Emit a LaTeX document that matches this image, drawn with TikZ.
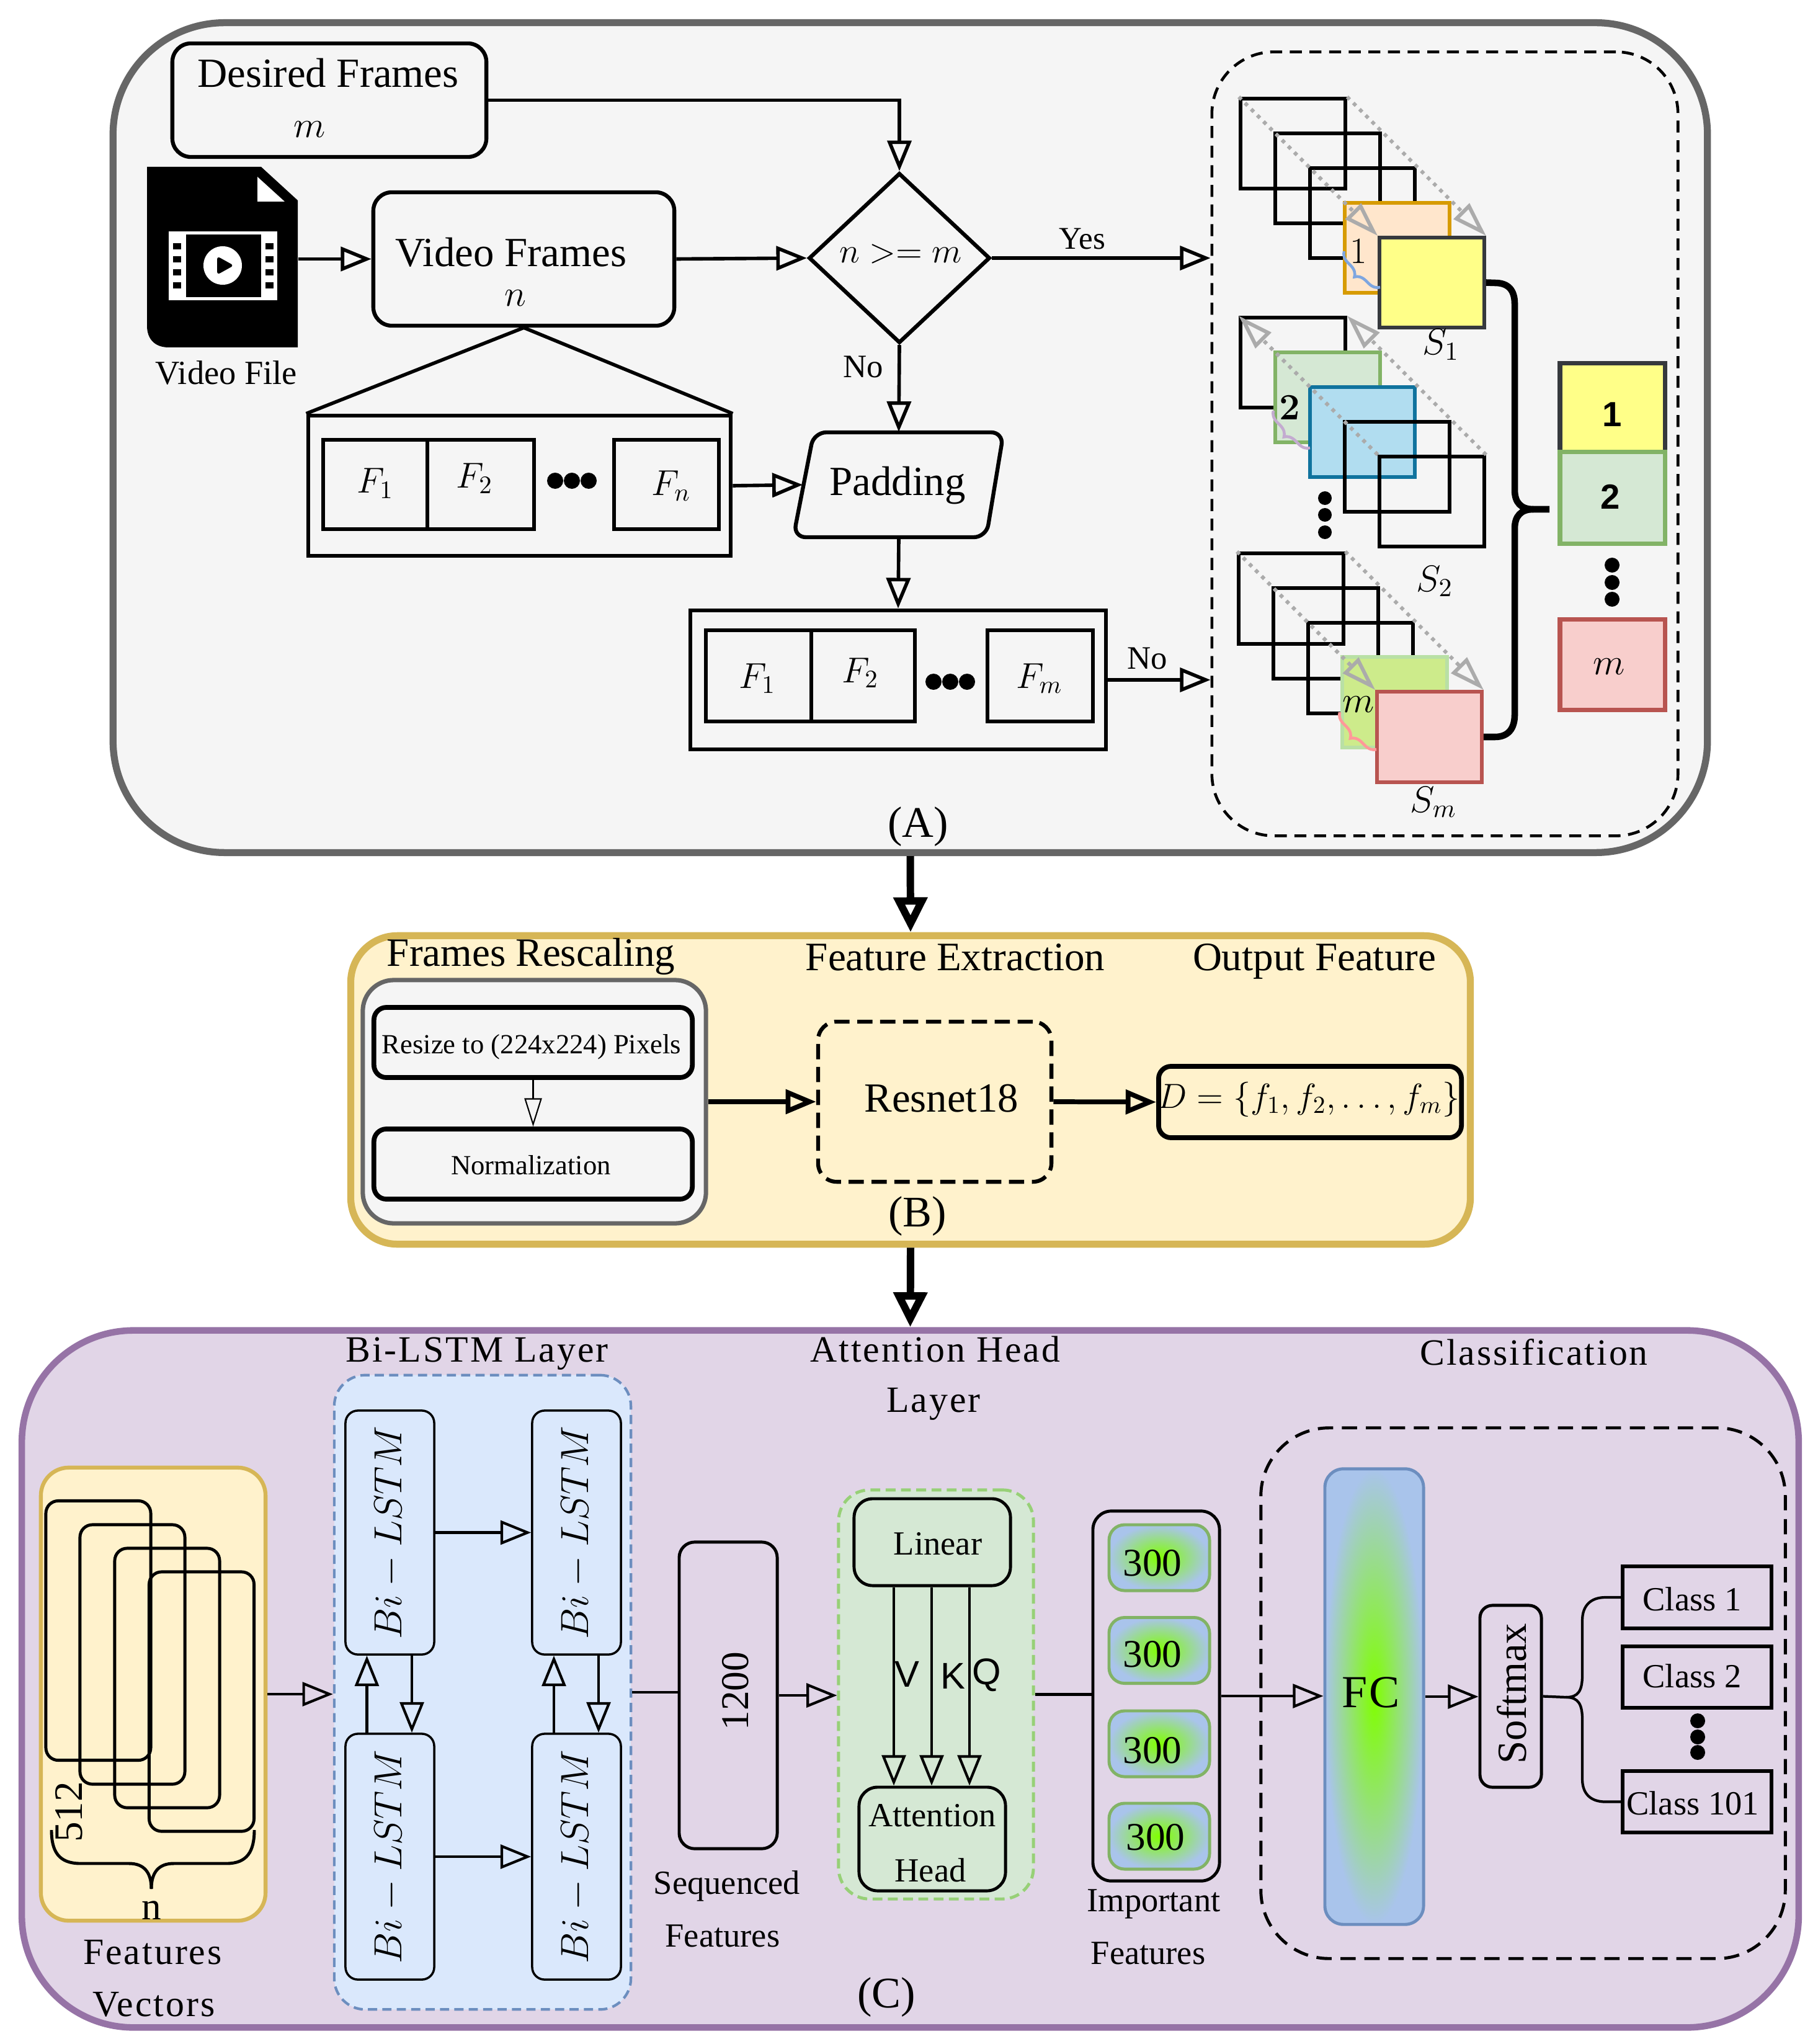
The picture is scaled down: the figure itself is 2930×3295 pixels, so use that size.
\RequirePackage{fix-cm}
\documentclass[tikz,border=0pt]{standalone}
\usepackage[no-math]{fontspec}
\setmainfont{Liberation Serif}
\newfontfamily\hsans{Liberation Sans}
\newfontfamily\spc[LetterSpace=5]{Liberation Serif}
\usetikzlibrary{arrows.meta,shapes.geometric,decorations.pathreplacing,calc}
\definecolor{grayfill}{HTML}{F5F5F5}
\definecolor{grayline}{HTML}{666666}
\definecolor{yelfill}{HTML}{FFF2CC}
\definecolor{yelline}{HTML}{D6B656}
\definecolor{purfill}{HTML}{E1D5E7}
\definecolor{purline}{HTML}{9673A6}
\definecolor{bluefill}{HTML}{DAE8FC}
\definecolor{blueline}{HTML}{6C8EBF}
\definecolor{grnfill}{HTML}{D5E8D4}
\definecolor{grnline}{HTML}{82B366}
\definecolor{grndash}{HTML}{97D077}
\definecolor{orfill}{HTML}{FFE6CC}
\definecolor{orline}{HTML}{D79B00}
\definecolor{yeltwo}{HTML}{FFFF88}
\definecolor{darkline}{HTML}{36393D}
\definecolor{cyanfill}{HTML}{B1DDF0}
\definecolor{cyanline}{HTML}{10739E}
\definecolor{limefill}{HTML}{CDEB8B}
\definecolor{limeline}{HTML}{B9E0A5}
\definecolor{redfill}{HTML}{F8CECC}
\definecolor{redline}{HTML}{B85450}
\definecolor{dotgray}{HTML}{ABABAB}
\definecolor{brblue}{HTML}{7EA6E0}
\definecolor{brpur}{HTML}{C3ABD0}
\definecolor{brpink}{HTML}{FF9999}
\definecolor{gcenter}{HTML}{80FF00}
\definecolor{gedge}{HTML}{A9C4EB}
\newcommand{\fs}[1]{\fontsize{#1}{#1}\selectfont}
\begin{document}
\begin{tikzpicture}[x=0.01cm, y=-0.01cm,
  lbl/.style={inner sep=0pt, anchor=base},
  rbox/.style={draw, line width=1.8pt, rounded corners=0.3cm, inner sep=0pt},
  pbox/.style={draw, line width=1.8pt, inner sep=0pt},
  stk/.style={draw, line width=1.6pt, inner sep=0pt, minimum width=1.69cm, minimum height=1.45cm},
  dotarr/.style={draw=dotgray, line width=1.7pt, dash pattern=on 1.7pt off 2.3pt, -{Triangle[open,length=16pt,width=10pt]}},
  arrA/.style={line width=1.6pt, -{Triangle[open,length=14pt,width=11pt]}},
  lineA/.style={line width=1.6pt},
  arrB/.style={line width=2.2pt, -{Triangle[open,length=14pt,width=11pt]}},
  arrBt/.style={line width=0.6pt, -{Triangle[open,length=13pt,width=8pt]}},
  bigarr/.style={line width=3.4pt, -{Triangle[open,length=16pt,width=15pt]}},
  arrC/.style={line width=1.2pt, -{Triangle[open,length=14pt,width=11pt]}},
  lineC/.style={line width=1.2pt},
  brc/.style={decorate, decoration={brace, amplitude=5pt}, line width=1.3pt},
  lstm/.style={draw, fill=bluefill, line width=1pt, rounded corners=0.2cm, inner sep=0pt, minimum width=1.43cm, minimum height=3.93cm},
  fr/.style={draw, line width=1.4pt, rounded corners=0.2cm, inner sep=0pt, minimum width=1.69cm, minimum height=4.18cm},
  gbox/.style={draw=grnline, line width=1.4pt, rounded corners=0.25cm, inner color=gcenter, outer color=gedge, inner sep=0pt, minimum width=1.62cm, minimum height=1.06cm},
  clsbox/.style={draw, line width=1.6pt, inner sep=0pt, minimum width=2.40cm, minimum height=1.0cm}
]
\useasboundingbox (0,0) rectangle (2930,3295);
\fill[white] (0,0) rectangle (2930,3295);

% ================= Section A =================
\node[draw=grayline, fill=grayfill, line width=3.2pt, rounded corners=1.8cm, minimum width=25.69cm, minimum height=13.37cm] (A) at (1467.5,705.5) {};

\node[rbox, minimum width=5.06cm, minimum height=1.83cm] (df) at (531,161.5) {};
\node[lbl, font=\fs{19}] (tdf) at (529,141) {Desired Frames};
\node[lbl, font=\fs{17}] (tdfm) at (499,222) {$m$};

% video file icon
\node[inner sep=0pt, minimum width=2.43cm, minimum height=2.91cm] (vf) at (358.5,414.5) {};
\fill[black] (237,269) -- (421,269) -- (480,323) -- (480,560) -- (272,560) .. controls (250,560) and (237,547) .. (237,525) -- cycle;
\fill[white] (415,285) -- (415,325) -- (459,325) -- cycle;
\fill[white] (272,373) rectangle (447,484);
\fill[black] (300,378) rectangle (421,479);
\foreach \yy in {392,413,434,455} {
  \fill[black] (279,\yy) rectangle ++(13,10);
  \fill[black] (428,\yy) rectangle ++(13,10);
}
\fill[white] (359,428) circle (0.31cm);
\fill[black, rounded corners=1.5pt] (350,413) -- (377,428) -- (350,443) -- cycle;
\node[lbl, font=\fs{15.5}] (tvf) at (365,620) {Video File};

\node[rbox, minimum width=4.85cm, minimum height=2.15cm] (vfr) at (844.5,417.5) {};
\node[lbl, font=\fs{19}] (tvfr) at (824,430) {Video Frames};
\node[lbl, font=\fs{17}] (tvfrn) at (831,494) {$n$};

\node[draw, diamond, line width=1.8pt, minimum width=2.92cm, minimum height=2.74cm, inner sep=0pt] (dia) at (1450,416) {};
\node[lbl, font=\fs{16}] (tdia) at (1452,424) {$n >= m$};

% padding
\draw[line width=1.8pt, rounded corners=0.2cm] (1434,866) -- (1279,866) -- (1312,697) -- (1618,697) -- (1590,866) -- cycle;
\node[inner sep=0pt, minimum width=3.08cm, minimum height=1.69cm] (pad) at (1449,781.5) {};
\node[lbl, font=\fs{19}] (tpad) at (1447,799) {Padding};

% frame containers
\node[pbox, minimum width=6.81cm, minimum height=2.26cm] (fca) at (837.5,783) {};
\node[pbox, minimum width=1.68cm, minimum height=1.44cm] (fa1) at (605,781) {};
\node[pbox, minimum width=1.72cm, minimum height=1.44cm] (fa2) at (775,781) {};
\node[pbox, minimum width=1.69cm, minimum height=1.44cm] (fan) at (1074.5,781) {};
\node[lbl, font=\fs{16.5}] (tfa1) at (605,795) {$F_1$};
\node[lbl, font=\fs{16.5}] (tfa2) at (765,787) {$F_2$};
\node[lbl, font=\fs{16.5}] (tfan) at (1082,799) {$F_n$};
\foreach \xx in {895,922,949} { \fill[black] (\xx,775) circle (0.13cm); }

\node[pbox, minimum width=6.70cm, minimum height=2.24cm] (fcb) at (1448,1096) {};
\node[pbox, minimum width=1.70cm, minimum height=1.47cm] (fb1) at (1223,1089.5) {};
\node[pbox, minimum width=1.67cm, minimum height=1.47cm] (fb2) at (1391.5,1089.5) {};
\node[pbox, minimum width=1.70cm, minimum height=1.47cm] (fbm) at (1677,1089.5) {};
\node[lbl, font=\fs{16.5}] (tfb1) at (1221,1109) {$F_1$};
\node[lbl, font=\fs{16.5}] (tfb2) at (1387,1100) {$F_2$};
\node[lbl, font=\fs{16.5}] (tfbm) at (1676,1109) {$F_m$};
\foreach \xx in {1505,1532,1559} { \fill[black] (\xx,1099) circle (0.13cm); }

% dashed sampling box
\node[draw, dash pattern=on 5.5pt off 3.5pt, line width=1.3pt, rounded corners=1cm, minimum width=7.51cm, minimum height=12.63cm] (dbox) at (2329.5,715.5) {};

% connectors of A
\draw[arrA] (df.east) -| (dia.north);
\draw[arrA] (vf.east |- vfr.west) -- (vfr.west);
\draw[arrA] (vfr.east) -- (dia.west);
\draw[arrA] (dia.east) -- (dia.east -| dbox.west);
\node[lbl, font=\fs{14.5}] (tyes) at (1745,402) {Yes};
\draw[arrA] (dia.south) -- (pad.north);
\node[lbl, font=\fs{15}] (tno1) at (1392,609) {No};
\draw[lineA] (vfr.south) -- (fca.north west);
\draw[lineA] (vfr.south) -- (fca.north east);
\draw[arrA] (fca.east) -- (pad.west);
\draw[arrA] (pad.south) -- (fcb.north);
\draw[arrA] (fcb.east) -- (fcb.east -| dbox.west);
\node[lbl, font=\fs{15}] (tno2) at (1850,1078) {No};

% stack S1
\node[stk] (s1a) at (2084.5,231.5) {};
\node[stk] (s1b) at (2140.5,287.5) {};
\node[stk] (s1c) at (2196.5,343.5) {};
\node[stk, fill=orfill, draw=orline] (s1d) at (2252.5,399.5) {};
\node[stk, fill=yeltwo, draw=darkline] (s1e) at (2308.5,455.5) {};
\draw[dotarr] (s1a.north west) -- (s1e.north west);
\draw[dotarr] (s1a.north east) -- (s1e.north east);
\node[lbl, font=\fs{17}] (ts1n) at (2190,425) {$1$};
\draw[brc, brblue] (2225,463) -- (2167,405);
\node[lbl, font=\fs{17}] (ts1) at (2323,572) {$S_1$};

% stack S2
\node[stk] (s2a) at (2084.5,584.5) {};
\node[stk, fill=grnfill, draw=grnline] (s2b) at (2140.5,640.5) {};
\node[stk, fill=cyanfill, draw=cyanline] (s2c) at (2196.5,696.5) {};
\node[stk] (s2d) at (2252.5,752.5) {};
\node[stk] (s2e) at (2308.5,808.5) {};
\draw[dotarr] (s2e.north west) -- (s2a.north west);
\draw[dotarr] (s2e.north east) -- (s2a.north east);
\node[lbl, font=\fs{17}] (ts2n) at (2079,677) {$\mathbf{2}$};
\draw[brc, brpur] (2112,722) -- (2053,662);
\foreach \yy in {803,830,858} { \fill[black] (2136,\yy) circle (0.11cm); }
\node[lbl, font=\fs{17}] (ts2) at (2313,953) {$S_2$};

% stack Sm
\node[stk, minimum height=1.46cm] (sma) at (2081.5,965) {};
\node[stk, minimum height=1.46cm] (smb) at (2137.5,1021) {};
\node[stk, minimum height=1.46cm] (smc) at (2193.5,1077) {};
\node[stk, minimum height=1.46cm, fill=limefill, draw=limeline] (smd) at (2248.5,1132) {};
\node[stk, minimum height=1.46cm, fill=redfill, draw=redline] (sme) at (2304.5,1188) {};
\draw[dotarr] (sma.north west) -- (sme.north west);
\draw[dotarr] (sma.north east) -- (sme.north east);
\node[lbl, font=\fs{17}] (tsmn) at (2190,1148) {$m$};
\draw[brc, brpink] (2219,1208) -- (2160,1148);
\node[lbl, font=\fs{17}] (tsm) at (2311,1309) {$S_m$};

% big brace
\coordinate (brt) at (2498,821);
\draw[line width=3pt] (s1e.east) -- (2410,456) .. controls (2432,456) and (2442,468) .. (2442,490) -- (2442,790) .. controls (2442,810) and (2452,821) .. (2472,821) -- (brt);
\draw[line width=3pt] (2472,821) .. controls (2452,821) and (2442,832) .. (2442,852) -- (2442,1152) .. controls (2442,1174) and (2432,1188) .. (2410,1188) -- (sme.east);

% result column
\node[draw=darkline, fill=yeltwo, line width=2pt, inner sep=0pt, minimum width=1.69cm, minimum height=1.43cm] (ra) at (2599.5,657.5) {};
\node[draw=grnline, fill=grnfill, line width=2pt, inner sep=0pt, minimum width=1.69cm, minimum height=1.47cm] (rb) at (2599.5,802.5) {};
\node[draw=redline, fill=redfill, line width=2pt, inner sep=0pt, minimum width=1.69cm, minimum height=1.45cm] (rm) at (2599.5,1071.5) {};
\node[lbl, font=\hsans\bfseries\fs{16}] (tra) at (2599,688) {1};
\node[lbl, font=\hsans\bfseries\fs{16}] (trb) at (2596,821) {2};
\node[lbl, font=\fs{17}] (trm) at (2594,1087) {$m$};
\foreach \yy in {911,939,966} { \fill[black] (2599,\yy) circle (0.12cm); }

\node[lbl, font=\fs{20}] (tA) at (1480,1349) {(A)};

% ================= Section B =================
\node[draw=yelline, fill=yelfill, line width=3.2pt, rounded corners=0.75cm, minimum width=18.04cm, minimum height=4.97cm] (B) at (1468,1757) {};
\node[lbl, font=\fs{18.5}] (tfr) at (856,1557) {Frames Rescaling};
\node[lbl, font=\fs{18.5}] (tfe) at (1540,1564) {Feature Extraction};
\node[lbl, font=\fs{18.5}] (tof) at (2119,1564) {Output Feature};

\node[draw=grayline, fill=grayfill, line width=2pt, rounded corners=0.5cm, minimum width=5.53cm, minimum height=3.92cm] (gb) at (861.5,1776) {};
\node[draw, fill=grayfill, line width=2.2pt, rounded corners=0.2cm, minimum width=5.13cm, minimum height=1.13cm] (rs) at (859.5,1680.5) {};
\node[draw, fill=grayfill, line width=2.2pt, rounded corners=0.2cm, minimum width=5.13cm, minimum height=1.13cm] (nm) at (859.5,1876.5) {};
\node[lbl, font=\fs{12.7}] (trs) at (857,1698) {Resize to (224x224) Pixels};
\node[lbl, font=\fs{12.7}] (tnm) at (856,1893) {Normalization};
\draw[arrBt] (rs.south) -- (nm.north);

\node[draw, dash pattern=on 7pt off 3.5pt, line width=1.8pt, rounded corners=0.3cm, minimum width=3.76cm, minimum height=2.58cm] (res) at (1507,1776) {};
\node[lbl, font=\fs{19}] (tres) at (1518,1792) {Resnet18};
\node[draw, line width=2.2pt, rounded corners=0.2cm, minimum width=4.88cm, minimum height=1.15cm] (dout) at (2112,1776.5) {};
\node[lbl, font=\fs{16}] (tdout) at (2110,1786) {$D=\{f_1,f_2,\ldots,f_m\}$};
\draw[arrB] (gb.east) -- (res.west);
\draw[arrB] (res.east) -- (dout.west);
\node[lbl, font=\fs{20}] (tB) at (1479,1977) {(B)};

% ================= Section C =================
\node[draw=purline, fill=purfill, line width=3pt, rounded corners=1.8cm, minimum width=28.63cm, minimum height=11.23cm] (C) at (1467.5,2706.5) {};

\draw[bigarr] (A.south) -- (B.north);
\draw[bigarr] (B.south) -- (C.north);

% feature vectors
\node[draw=yelline, fill=yelfill, line width=1.8pt, rounded corners=0.45cm, minimum width=3.62cm, minimum height=7.30cm] (feat) at (247,2731) {};
\node[fr] (fv1) at (158.5,2628.5) {};
\node[fr] (fv2) at (213.5,2667) {};
\node[fr] (fv3) at (269.5,2705) {};
\node[fr] (fv4) at (325,2743) {};
\draw[line width=1.4pt] (83,2950) .. controls (83,2985) and (95,3004) .. (130,3004) -- (208,3004) .. controls (232,3004) and (244,3018) .. (244,3045);
\draw[line width=1.4pt] (244,3045) .. controls (244,3018) and (256,3004) .. (280,3004) -- (365,3004) .. controls (398,3004) and (410,2985) .. (410,2950);
\node[inner sep=0pt, rotate=90, font=\fs{18.5}] (t512) at (111,2921) {512};
\node[lbl, font=\fs{18}] (tnn) at (244,3094) {n};
\node[lbl, font=\spc\fs{17}] (tfv1) at (246,3166) {Features};
\node[lbl, font=\spc\fs{17}] (tfv2) at (248,3250) {Vectors};

% Bi-LSTM
\node[draw=blueline, fill=bluefill, dash pattern=on 4.2pt off 2.4pt, line width=1.2pt, rounded corners=0.5cm, minimum width=4.78cm, minimum height=10.22cm] (bil) at (778,2728) {};
\node[lbl, font=\spc\fs{17}] (tbil) at (769,2195) {Bi-LSTM Layer};
\node[lstm] (tl) at (628.5,2470.5) {};
\node[lstm] (tr) at (929.5,2470.5) {};
\node[lstm, minimum height=3.96cm] (bl) at (628.5,2993) {};
\node[lstm, minimum height=3.96cm] (br) at (929.5,2993) {};
\node[rotate=90, inner sep=0pt, font=\fs{18}] (ttl) at (tl.center) {$Bi-LSTM$};
\node[rotate=90, inner sep=0pt, font=\fs{18}] (ttr) at (tr.center) {$Bi-LSTM$};
\node[rotate=90, inner sep=0pt, font=\fs{18}] (tbl) at (bl.center) {$Bi-LSTM$};
\node[rotate=90, inner sep=0pt, font=\fs{18}] (tbr) at (br.center) {$Bi-LSTM$};
\draw[arrC] (feat.east) -- (feat.east -| bil.west);
\draw[arrC] (tl.east) -- (tr.west);
\draw[arrC] (bl.east) -- (br.west);
\draw[arrC] ($(bl.north)+(-0.37cm,0pt)$) -- ($(tl.south)+(-0.37cm,0pt)$);
\draw[arrC] ($(tl.south)+(0.355cm,0pt)$) -- ($(bl.north)+(0.355cm,0pt)$);
\draw[arrC] ($(br.north)+(-0.365cm,0pt)$) -- ($(tr.south)+(-0.365cm,0pt)$);
\draw[arrC] ($(tr.south)+(0.355cm,0pt)$) -- ($(br.north)+(0.355cm,0pt)$);

% sequenced features
\node[draw, line width=1.4pt, rounded corners=0.25cm, minimum width=1.58cm, minimum height=4.94cm] (sq) at (1174,2733) {};
\node[rotate=90, inner sep=0pt, font=\fs{18}] (tsq) at (1186,2726) {1200};
\node[lbl, font=\fs{15.5}] (tsq1) at (1172,3053) {Sequenced};
\node[lbl, font=\fs{15.5}] (tsq2) at (1165,3138) {Features};
\draw[lineC] (bil.east) -- (bil.east -| sq.west);

% attention
\node[draw=grndash, fill=grnfill, dash pattern=on 4.5pt off 2.5pt, line width=1.4pt, rounded corners=0.5cm, minimum width=3.14cm, minimum height=6.59cm] (att) at (1509,2731.5) {};
\node[lbl, font=\spc\fs{17}] (tatt1) at (1508,2195) {Attention Head};
\node[lbl, font=\spc\fs{17}] (tatt2) at (1505,2276) {Layer};
\node[draw, fill=grnfill, line width=1.4pt, rounded corners=0.3cm, minimum width=2.52cm, minimum height=1.40cm] (lin) at (1503,2486) {};
\node[draw, fill=grnfill, line width=1.4pt, rounded corners=0.3cm, minimum width=2.36cm, minimum height=1.67cm] (ah) at (1503,2964.5) {};
\node[lbl, font=\fs{15.5}] (tlin) at (1512,2506) {Linear};
\node[lbl, font=\fs{15.5}] (tah1) at (1503,2944) {Attention};
\node[lbl, font=\fs{15.5}] (tah2) at (1500,3033) {Head};
\draw[arrC] (1441,0 |- lin.south) -- (1441,0 |- ah.north);
\draw[arrC] (1502,0 |- lin.south) -- (1502,0 |- ah.north);
\draw[arrC] (1563,0 |- lin.south) -- (1563,0 |- ah.north);
\node[lbl, font=\hsans\fs{17}] (tv) at (1462,2719) {V};
\node[lbl, font=\hsans\fs{17}] (tk) at (1536,2722) {K};
\node[lbl, font=\hsans\fs{17}] (tq) at (1591,2715) {Q};
\draw[arrC] (sq.east) -- (sq.east -| att.west);
\node[lbl, font=\fs{20}] (tC) at (1429,3236) {(C)};

% important features
\node[draw, line width=1.4pt, rounded corners=0.3cm, minimum width=2.04cm, minimum height=5.96cm] (imp) at (1864,2734) {};
\node[gbox] (g1) at (1869,2511) {};
\node[gbox] (g2) at (1869,2660.5) {};
\node[gbox] (g3) at (1869,2811) {};
\node[gbox] (g4) at (1869,2960) {};
\node[lbl, font=\fs{18}] (tg1) at (1858,2540) {300};
\node[lbl, font=\fs{18}] (tg2) at (1858,2687) {300};
\node[lbl, font=\fs{18}] (tg3) at (1858,2842) {300};
\node[lbl, font=\fs{18}] (tg4) at (1863,2982) {300};
\node[lbl, font=\fs{15.5}] (timp1) at (1860,3081) {Important};
\node[lbl, font=\fs{15.5}] (timp2) at (1851,3166) {Features};
\draw[lineC] (att.east) -- (att.east -| imp.west);

% classification
\node[draw, dash pattern=on 7pt off 4pt, line width=1.4pt, rounded corners=1.1cm, minimum width=8.45cm, minimum height=8.55cm] (cls) at (2455.5,2729.5) {};
\node[lbl, font=\spc\fs{17}] (tcls) at (2473,2200) {Classification};
\node[draw=blueline, line width=1.4pt, rounded corners=0.3cm, inner color=gcenter, outer color=gedge, minimum width=1.59cm, minimum height=7.34cm] (fc) at (2215.5,2735) {};
\node[lbl, font=\spc\fs{21}] (tfc) at (2210,2752) {FC};
\draw[arrC] (imp.east) -- (imp.east -| fc.west);
\node[draw, line width=1.4pt, rounded corners=0.2cm, minimum width=0.99cm, minimum height=2.93cm] (sm) at (2435.5,2734.5) {};
\node[rotate=90, inner sep=0pt, font=\fs{19}] (tsm2) at (2437,2730) {Softmax};
\draw[arrC] (fc.east) -- (fc.east -| sm.west);
\node[clsbox] (k1) at (2736,2575) {};
\node[clsbox, minimum height=0.99cm] (k2) at (2736,2703.5) {};
\node[clsbox, minimum height=0.99cm] (k3) at (2736,2904.5) {};
\node[lbl, font=\fs{15.5}] (tk1) at (2728,2596) {Class 1};
\node[lbl, font=\fs{15.5}] (tk2) at (2728,2720) {Class 2};
\node[lbl, font=\fs{15.5}] (tk3) at (2729,2925) {Class 101};
\foreach \yy in {2774,2800,2825} { \fill[black] (2737,\yy) circle (0.12cm); }
\draw[lineC] (sm.east) -- (2525,2736) .. controls (2545,2736) and (2551,2725) .. (2551,2700) -- (2551,2612) .. controls (2551,2588) and (2565,2575) .. (2588,2575) -- (k1.west);
\draw[lineC] (2525,2736) .. controls (2545,2736) and (2551,2748) .. (2551,2772) -- (2551,2868) .. controls (2551,2892) and (2565,2904.5) .. (2588,2904.5) -- (k3.west);

\end{tikzpicture}
\end{document}
